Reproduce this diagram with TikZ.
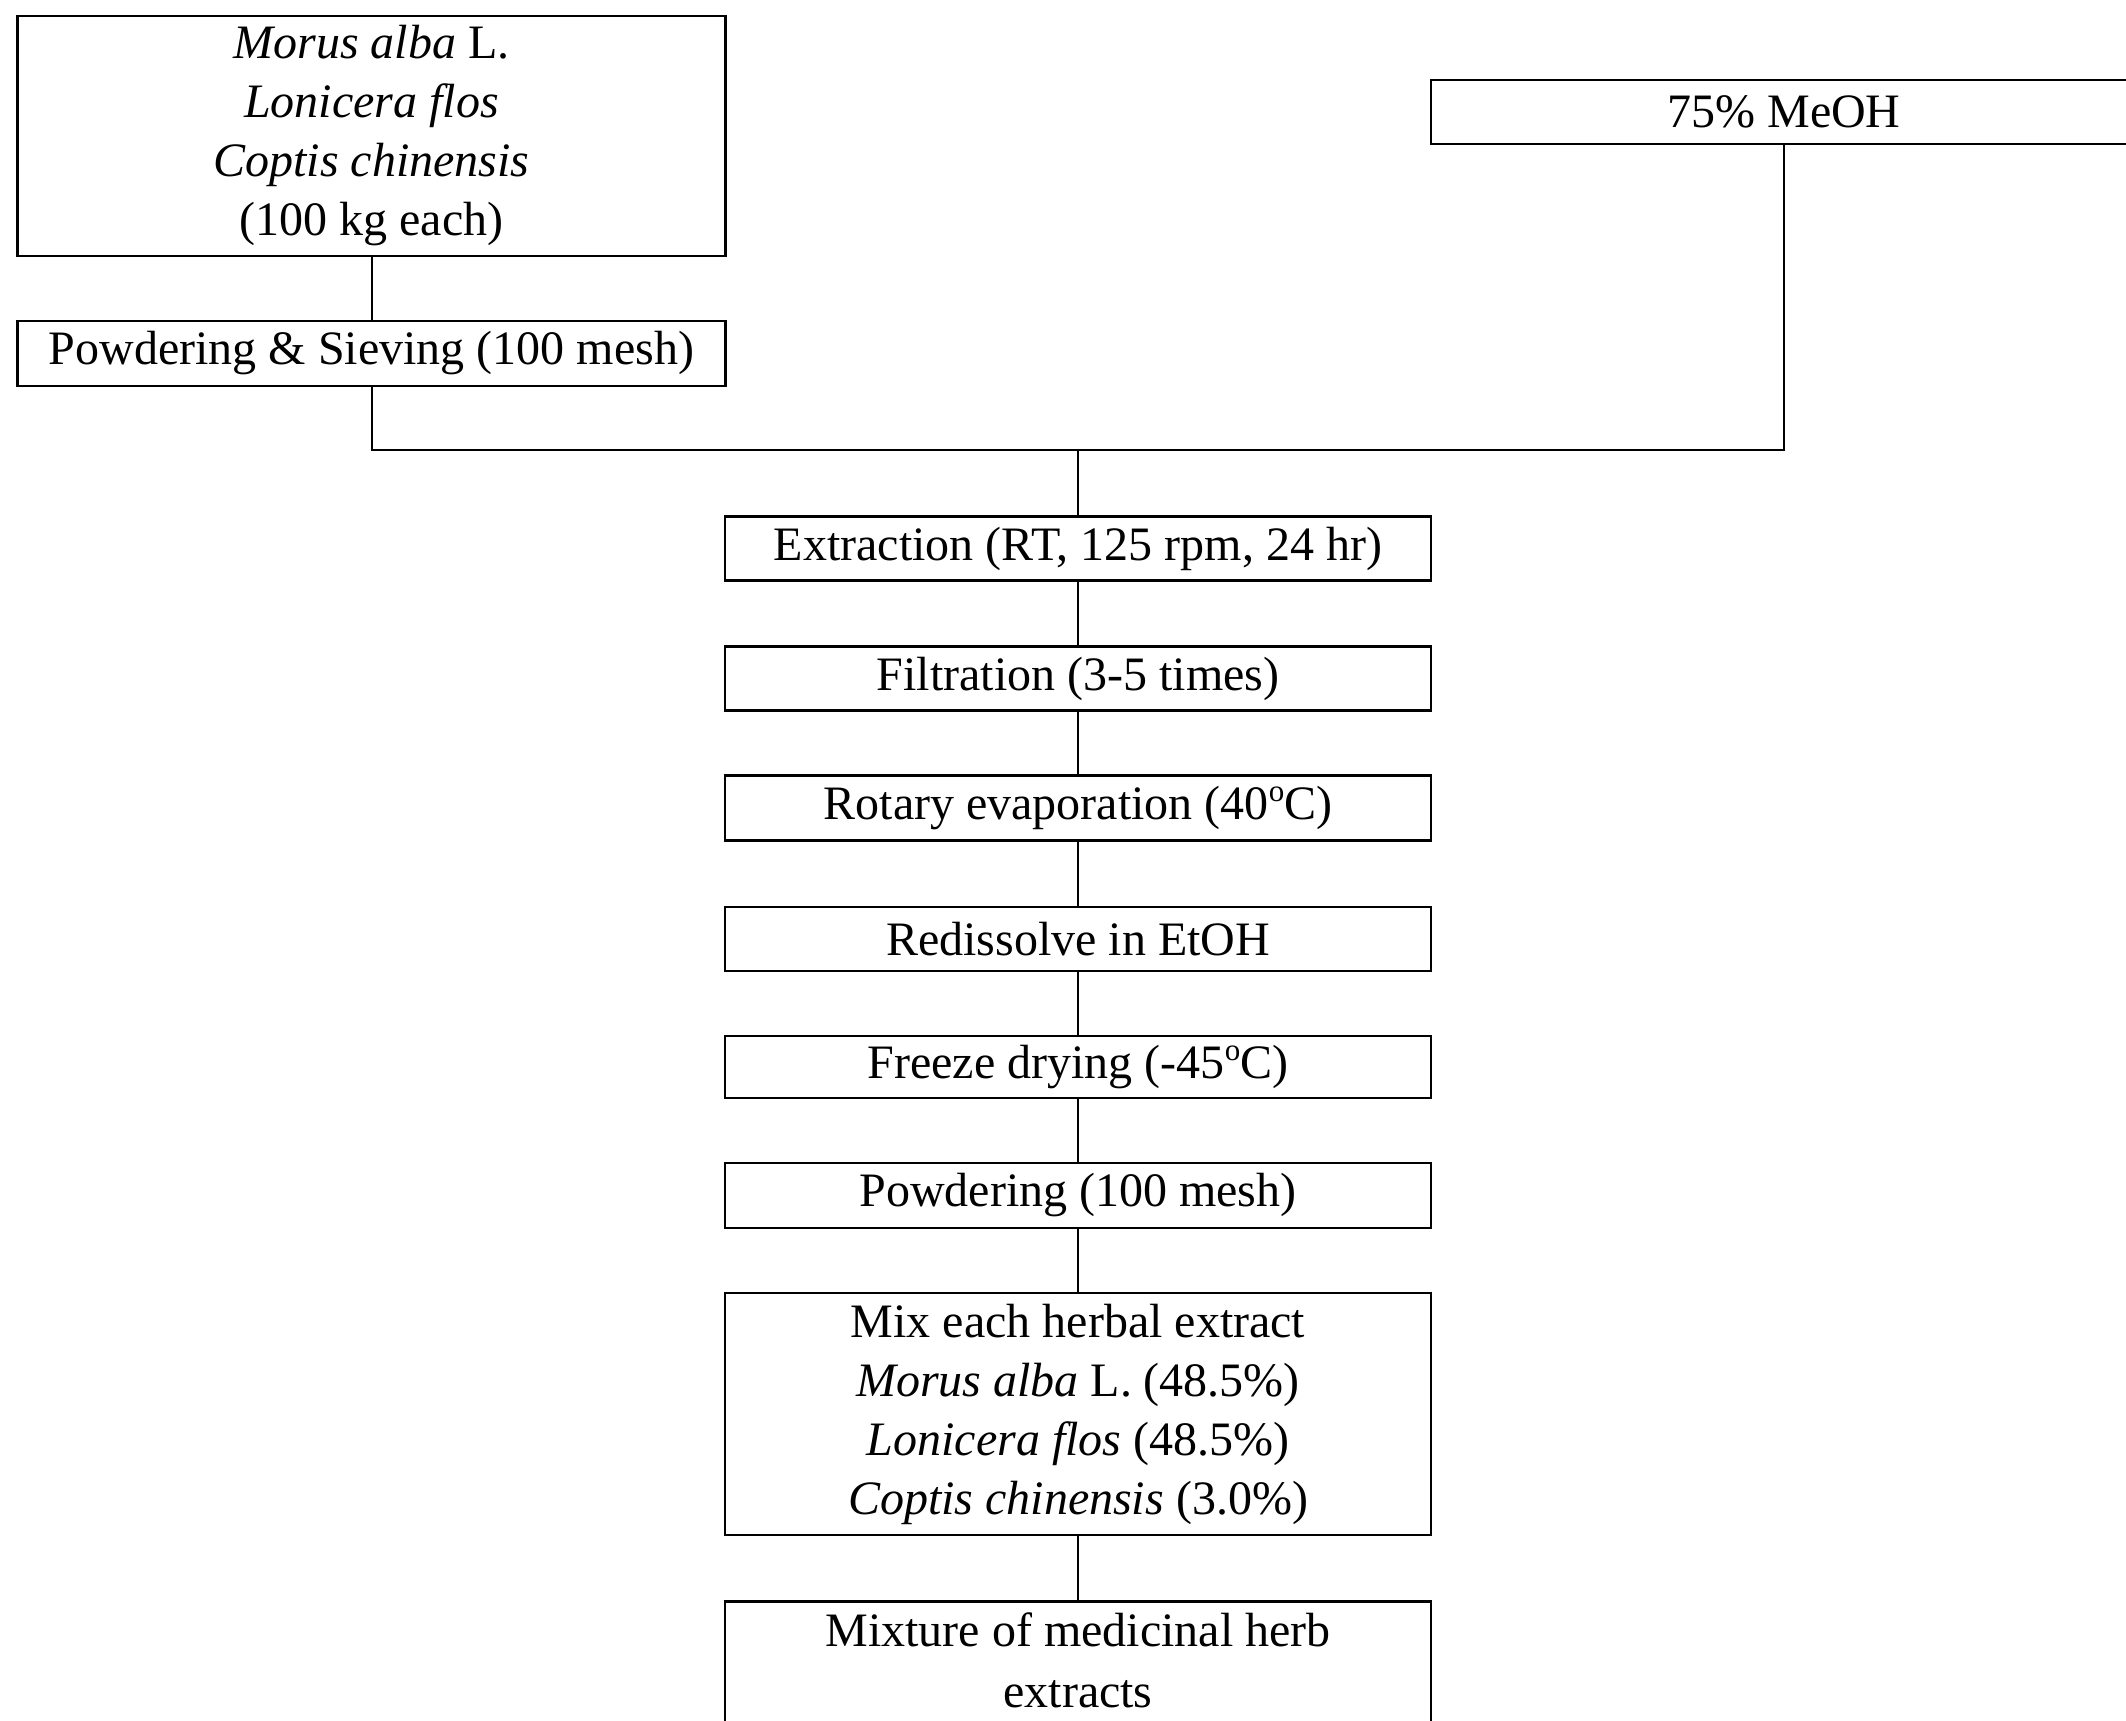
\documentclass[tikz,border=0pt]{standalone}
\usepackage{fontspec}
\setmainfont{Liberation Serif}
\newcommand{\degsup}{\raisebox{0.38em}{\fontsize{31}{31}\selectfont o}}
\begin{document}
\begin{tikzpicture}[x=1pt,y=-1pt,
  procbox/.style={draw, line width=2.6pt, minimum width=706pt, inner sep=0pt, align=center,
     font=\fontsize{48}{59}\selectfont},
  conn/.style={line width=2pt}]
\useasboundingbox (0,0) rectangle (2126,1721);
\clip (0,0) rectangle (2126,1721);
\fill[white] (0,0) rectangle (2126,1721);
\node[procbox, minimum width=708pt, minimum height=240pt] (herbs) at (371.5,136)
  {\textit{Morus alba} L.\\ \textit{Lonicera flos}\\ \textit{Coptis chinensis}\\ (100 kg each)};
\node[procbox, minimum width=708pt, minimum height=65pt] (sieve) at (371.5,353.5) {Powdering \& Sieving (100 mesh)};
\node[procbox, minimum height=64pt] (meoh) at (1784,112) {75\% MeOH};
\node[procbox, minimum height=64pt] (ext) at (1078,548.5) {Extraction (RT, 125 rpm, 24 hr)};
\node[procbox, minimum height=64pt] (filt) at (1078,678.7) {Filtration (3-5 times)};
\node[procbox, minimum height=65pt] (rot) at (1078,808) {Rotary evaporation (40\degsup C)};
\node[procbox, minimum height=64pt] (redis) at (1078,939) {Redissolve in EtOH};
\node[procbox, minimum height=62pt] (freeze) at (1078,1067) {Freeze drying (-45\degsup C)};
\node[procbox, minimum height=65pt] (powd) at (1078,1195.5) {Powdering (100 mesh)};
\node[procbox, minimum height=242pt] (mix) at (1078,1414)
  {Mix each herbal extract\\ \textit{Morus alba} L. (48.5\%)\\ \textit{Lonicera flos} (48.5\%)\\ \textit{Coptis chinensis} (3.0\%)};
\node[procbox, anchor=north, inner ysep=11pt] (mixture) at (1078,1600)
  {\parbox[t][240pt][t]{700pt}{\centering\fontsize{48}{61}\selectfont Mixture of medicinal herb\\ extracts}};
\coordinate (jc) at (1078,450);
\draw[conn] (herbs.south) -- (sieve.north);
\draw[conn] (sieve.south) |- (jc) -| (meoh.south);
\draw[conn] (jc) -- (ext.north);
\draw[conn] (ext.south) -- (filt.north);
\draw[conn] (filt.south) -- (rot.north);
\draw[conn] (rot.south) -- (redis.north);
\draw[conn] (redis.south) -- (freeze.north);
\draw[conn] (freeze.south) -- (powd.north);
\draw[conn] (powd.south) -- (mix.north);
\draw[conn] (mix.south) -- (mixture.north);
\end{tikzpicture}
\end{document}
